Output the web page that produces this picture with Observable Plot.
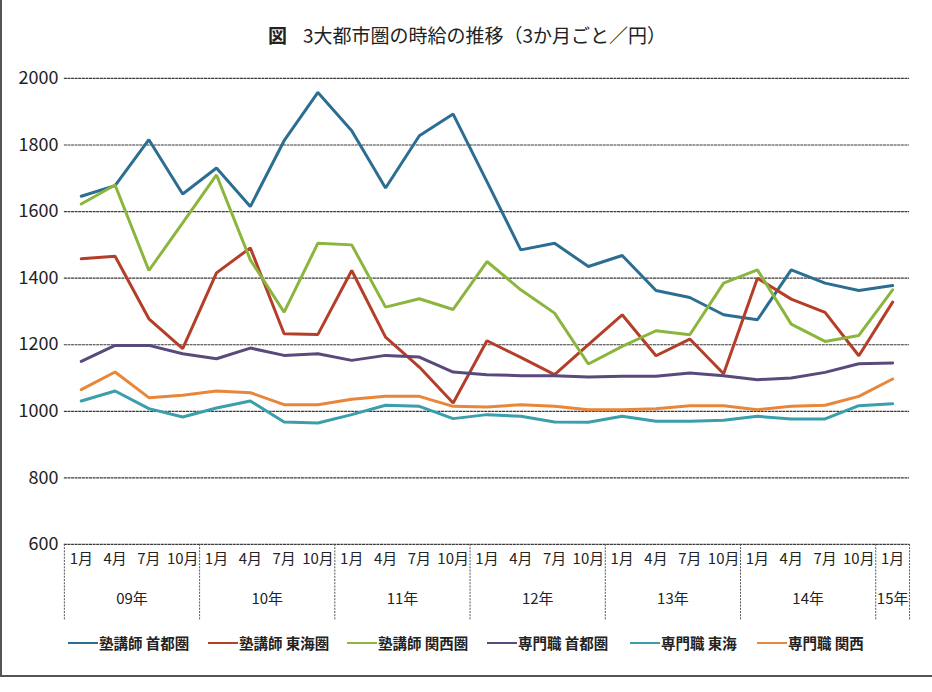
<!DOCTYPE html>
<html>
<head>
<meta charset="utf-8">
<script src="https://cdn.jsdelivr.net/npm/d3@7"></script>
<script src="https://cdn.jsdelivr.net/npm/@observablehq/plot@0.6"></script>
<style>
  html, body { margin: 0; padding: 0; background: #fff; }
  #page { position: relative; width: 930px; height: 675px; border-left: 2px solid #555; border-bottom: 2px solid #555;
          font-family: "Noto Sans CJK JP", "Noto Sans", sans-serif; color: #222; overflow: hidden; }
  #title { height: 55px; line-height: 70px; text-align: center; font-size: 19px; }
  #title b { font-weight: 700; margin-right: 16px; }
  #legend { position: absolute; top: 632px; left: 66px; display: flex; align-items: center; font-size: 14.5px; font-weight: 700; }
  .item { display: flex; align-items: center; }
  .sw { display: inline-block; width: 30px; height: 2px; margin-right: 1px; }
</style>
</head>
<body>
<div id="page">
  <div id="title"><b>図</b>3大都市圏の時給の推移（3か月ごと／円）</div>
  <div id="chart"></div>
  <div id="legend"></div>
</div>
<script>
// quarters: month label and year label
const months = ["1月","4月","7月","10月","1月","4月","7月","10月","1月","4月","7月","10月","1月","4月","7月","10月","1月","4月","7月","10月","1月","4月","7月","10月","1月"];
const years  = ["09年","09年","09年","09年","10年","10年","10年","10年","11年","11年","11年","11年","12年","12年","12年","12年","13年","13年","13年","13年","14年","14年","14年","14年","15年"];

const seriesNames = ["塾講師 首都圏","塾講師 東海圏","塾講師 関西圏","専門職 首都圏","専門職 東海","専門職 関西"];
const seriesColors = ["#2c6d92","#b43e28","#8bb53c","#594a7b","#3a9fab","#e8863a"];

const jukuShuto  = [1646,1678,1816,1653,1731,1615,1813,1958,1843,1671,1828,1893,1690,1485,1505,1435,1468,1363,1342,1290,1275,1425,1385,1363,1378];
const jukuTokai  = [1458,1466,1278,1188,1416,1491,1233,1231,1423,1223,1133,1025,1212,1162,1110,1200,1290,1167,1217,1113,1400,1337,1297,1167,1328];
const jukuKansai = [1623,1680,1423,1566,1710,1455,1298,1505,1500,1313,1338,1306,1450,1365,1295,1142,1195,1242,1230,1385,1425,1262,1210,1228,1365];
const senShuto   = [1150,1198,1198,1173,1158,1190,1168,1173,1153,1168,1163,1118,1110,1107,1107,1103,1105,1105,1115,1107,1095,1100,1117,1143,1145];
const senTokai   = [1031,1061,1008,983,1010,1031,968,965,990,1018,1015,978,990,985,968,967,985,970,970,973,985,977,977,1017,1023];
const senKansai  = [1065,1118,1041,1048,1061,1056,1020,1020,1036,1045,1045,1015,1013,1020,1015,1005,1005,1008,1017,1017,1005,1015,1018,1045,1097];

const yTicks = [600,800,1000,1200,1400,1600,1800,2000];

const allSeries = [jukuShuto, jukuTokai, jukuKansai, senShuto, senTokai, senKansai];
const rows = allSeries.flatMap((vals, s) => vals.map((v, i) => ({i, v, s: seriesNames[s]})));

const idx = months.map((_, i) => i);
// year groups
const groups = d3.groups(idx, i => years[i]);
const yearLabels = groups.map(([y, is]) => ({y, x: d3.mean(is)}));
const seps = [-0.5, ...groups.map(([, is]) => d3.max(is) + 0.5)];

const height = 575, marginTop = 23, marginBottom = 85;
const frameH = height - marginTop - marginBottom;

const chart = Plot.plot({
  width: 932,
  height,
  marginLeft: 62,
  marginRight: 23,
  marginTop,
  marginBottom,
  style: {fontFamily: '"Noto Sans CJK JP", sans-serif', color: "#222", background: "transparent"},
  x: {domain: [-0.5, months.length - 0.5], axis: null},
  y: {domain: [600, 2000], axis: null},
  color: {domain: seriesNames, range: seriesColors},
  marks: [
    Plot.ruleY(yTicks, {stroke: "#3a3a3a", strokeWidth: 1.2, strokeDasharray: "3,0.6"}),
    Plot.axisY({ticks: yTicks, tickSize: 0, tickPadding: 6, fontSize: 18, label: null, tickFormat: d => String(d)}),
    Plot.ruleX(seps, {x: d => d, insetTop: frameH, insetBottom: -76, stroke: "#555", strokeDasharray: "2,1.2"}),
    Plot.text(idx, {x: d => d, text: d => months[d], frameAnchor: "bottom", dy: 20, fontSize: 15, fill: "#222"}),
    Plot.text(yearLabels, {x: "x", text: "y", frameAnchor: "bottom", dy: 60, fontSize: 15, fill: "#222"}),
    Plot.line(rows, {x: "i", y: "v", z: "s", stroke: "s", strokeWidth: 3, strokeLinejoin: "miter"})
  ]
});
document.getElementById("chart").appendChild(chart);

// legend
const widths = [140, 139, 140, 143, 127, 110];
const legend = document.getElementById("legend");
seriesNames.forEach((n, k) => {
  const it = document.createElement("div");
  it.className = "item";
  it.style.width = widths[k] + "px";
  const sw = document.createElement("span");
  sw.className = "sw";
  sw.style.background = seriesColors[k];
  const t = document.createElement("span");
  t.textContent = n;
  it.appendChild(sw); it.appendChild(t);
  legend.appendChild(it);
});
</script>
</body>
</html>
